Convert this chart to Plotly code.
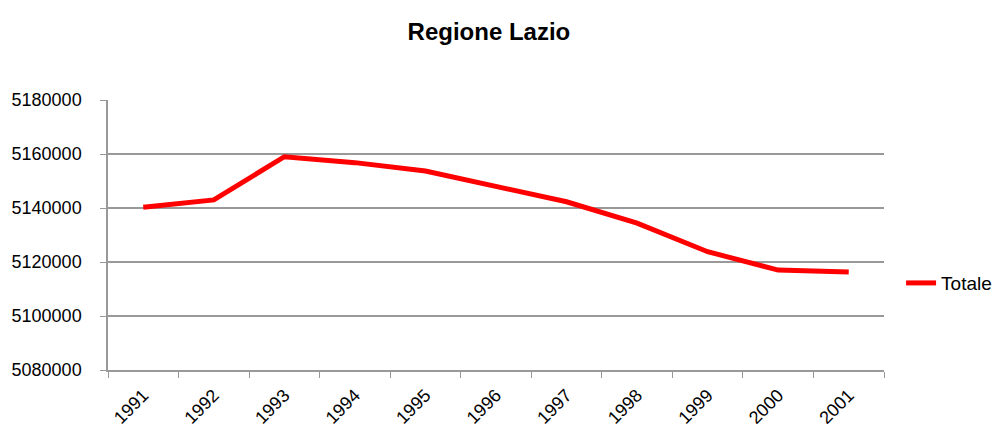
import plotly.graph_objects as go

years = ["1991", "1992", "1993", "1994", "1995", "1996", "1997", "1998", "1999", "2000", "2001"]
totale = [5140300, 5143000, 5159000, 5156800, 5153700, 5148100, 5142300, 5134400, 5123800, 5117000, 5116300]
y_ticks = [5080000, 5100000, 5120000, 5140000, 5160000, 5180000]

FONT = "Liberation Sans, Arial, sans-serif"

fig = go.Figure()
fig.add_trace(go.Scatter(x=years, y=totale, mode="lines", name="Totale",
                         line=dict(color="#FF0000", width=5)))

fig.update_layout(
    width=1004, height=428,
    margin=dict(l=100, r=128, t=92, b=66, autoexpand=False),
    paper_bgcolor="white", plot_bgcolor="white",
    font=dict(family=FONT, size=18, color="#000000"),
    title=dict(text="<b>Regione Lazio</b>", x=0.479, xanchor="center", y=0.944, yanchor="middle",
               font=dict(family=FONT, size=24, color="#000000")),
    showlegend=True,
    legend=dict(x=1.022, xanchor="left", y=0.322, yanchor="middle",
                font=dict(family=FONT, size=19, color="#000000"), bgcolor="rgba(0,0,0,0)"),
    xaxis=dict(type="category", range=[-0.5, 10.5], showgrid=False, showline=True,
               linecolor="#999999", linewidth=1.5, automargin=False,
               ticks="outside", tickson="boundaries", ticklen=6, tickcolor="#999999",
               tickangle=-45, tickfont=dict(family=FONT, size=18), ticklabelstandoff=6),
    yaxis=dict(range=[5080000, 5180000], tickvals=y_ticks, ticktext=[str(v) for v in y_ticks],
               showgrid=True, gridcolor="#999999", gridwidth=1.5, automargin=False,
               showline=True, linecolor="#999999", linewidth=1.5,
               ticks="outside", ticklen=6, tickcolor="#999999", zeroline=False,
               tickfont=dict(family=FONT, size=18), ticklabelstandoff=15),
)

fig.write_html("out.html")
